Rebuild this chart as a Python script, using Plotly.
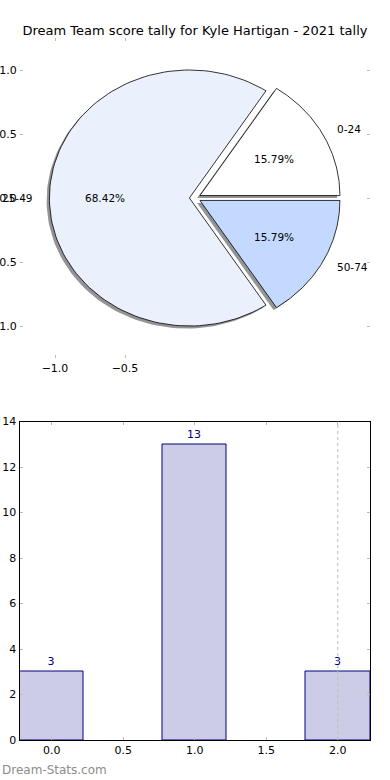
import numpy as np
import plotly.graph_objects as go

# ---- data ----
title_text = "Dream Team score tally for Kyle Hartigan - 2021 tally"
pie_labels = ["0-24", "25-49", "50-74"]
pie_values = [3, 13, 3]
pie_colors = ["#FFFFFF", "#EAF0FC", "#C4D9FF"]
explode = [0.04, 0.04, 0.04]

bar_x = [0, 1, 2]
bar_values = [3, 13, 3]
bar_width = 0.45

pie_yticks = [1.0, 0.5, 0.0, -0.5, -1.0]
pie_xticks = [-1.0, -0.5]
bar_xticks = [0.0, 0.5, 1.0, 1.5, 2.0]
bar_yticks = [0, 2, 4, 6, 8, 10, 12, 14]

FONT = "DejaVu Sans"
fig = go.Figure()

total = float(sum(pie_values))
fracs = [v / total for v in pie_values]

# compute wedges
wedges = []
t1 = 0.0
for lab, f, col, ex in zip(pie_labels, fracs, pie_colors, explode):
    t2 = t1 + 360.0 * f
    mid = np.deg2rad((t1 + t2) / 2)
    cx, cy = ex * np.cos(mid), ex * np.sin(mid)
    th = np.deg2rad(np.linspace(t1, t2, 120))
    xs = np.concatenate([[cx], cx + np.cos(th), [cx]])
    ys = np.concatenate([[cy], cy + np.sin(th), [cy]])
    wedges.append((lab, f, col, xs, ys, cx, cy, mid))
    t1 = t2

# shadows first
for lab, f, col, xs, ys, cx, cy, mid in wedges:
    fig.add_trace(go.Scatter(x=xs - 0.02, y=ys - 0.02, mode="lines", fill="toself",
                             fillcolor="rgba(60,60,65,0.55)", line=dict(width=0),
                             hoverinfo="skip", showlegend=False, xaxis="x", yaxis="y"))
for lab, f, col, xs, ys, cx, cy, mid in wedges:
    fig.add_trace(go.Scatter(x=xs, y=ys, mode="lines", fill="toself",
                             fillcolor=col, line=dict(color="black", width=0.8),
                             hoverinfo="skip", showlegend=False, xaxis="x", yaxis="y"))

# labels and percentages
for lab, f, col, xs, ys, cx, cy, mid in wedges:
    lx, ly = cx + 1.1 * np.cos(mid), cy + 1.1 * np.sin(mid)
    fig.add_annotation(x=lx, y=ly, xref="x", yref="y", text=lab, showarrow=False,
                       xanchor="left" if lx > 0 else "right", yanchor="middle",
                       font=dict(family=FONT, size=10.5, color="black"))
    px_, py_ = cx + 0.6 * np.cos(mid), cy + 0.6 * np.sin(mid)
    fig.add_annotation(x=px_, y=py_, xref="x", yref="y", text=f"{f*100:.2f}%", showarrow=False,
                       xanchor="center", yanchor="middle",
                       font=dict(family=FONT, size=10.5, color="black"))

# bars
fig.add_trace(go.Bar(x=bar_x, y=bar_values, width=bar_width,
                     marker=dict(color="#CCCCE6", line=dict(color="#000080", width=1)),
                     text=[str(v) for v in bar_values], textposition="outside",
                     textfont=dict(family=FONT, size=11, color="#000080"),
                     cliponaxis=False, hoverinfo="skip", showlegend=False,
                     xaxis="x2", yaxis="y2"))

# dotted grid line at last x tick
fig.add_shape(type="line", xref="x2", yref="y2 domain", x0=bar_xticks[-1], x1=bar_xticks[-1],
              y0=0, y1=1, line=dict(color="#BBBBBB", width=1, dash="dot"), layer="above")

tickfont = dict(family=FONT, size=11, color="black")
fig.update_layout(
    width=390, height=780,
    margin=dict(l=0, r=0, t=0, b=0),
    paper_bgcolor="white", plot_bgcolor="white",
    showlegend=False,
    bargap=0,
    title=dict(text=title_text, x=0.5, xanchor="center", y=1 - 30 / 780, yanchor="middle",
               font=dict(family=FONT, size=13, color="black")),
    xaxis=dict(domain=[20 / 390, 370 / 390], range=[-1.25, 1.25], tickvals=pie_xticks,
               ticktext=[f"{v:.1f}".replace("-", "\u2212") for v in pie_xticks],
               ticks="inside", ticklen=3, tickcolor="#BBBBBB", mirror="ticks",
               showline=True, linecolor="rgba(0,0,0,0)", showgrid=False, zeroline=False,
               tickfont=tickfont, automargin=False, fixedrange=True, anchor="y"),
    yaxis=dict(domain=[1 - 358 / 780, 1 - 38 / 780], range=[-1.25, 1.25], tickvals=pie_yticks,
               ticktext=[f"{v:.1f}".replace("-", "\u2212") for v in pie_yticks],
               ticks="inside", ticklen=3, tickcolor="#BBBBBB", mirror="ticks",
               showline=True, linecolor="rgba(0,0,0,0)", showgrid=False, zeroline=False,
               tickfont=tickfont, automargin=False, fixedrange=True, anchor="x"),
    xaxis2=dict(domain=[19.5 / 390, 370 / 390], range=[-0.225, 2.225], tickvals=bar_xticks,
                ticktext=[f"{v:.1f}" for v in bar_xticks],
                ticks="inside", ticklen=3, tickcolor="#BBBBBB", mirror="ticks",
                showline=True, linecolor="black", linewidth=1, showgrid=False, zeroline=False,
                tickfont=tickfont, automargin=False, fixedrange=True, anchor="y2"),
    yaxis2=dict(domain=[1 - 740 / 780, 1 - 421.5 / 780], range=[0, 14], tickvals=bar_yticks,
                ticks="inside", ticklen=3, tickcolor="#BBBBBB", mirror="ticks",
                showline=True, linecolor="black", linewidth=1, showgrid=False, zeroline=False,
                tickfont=tickfont, automargin=False, fixedrange=True, anchor="x2"),
)

fig.add_annotation(x=0, y=1 - 770 / 780, xref="paper", yref="paper", text="Dream-Stats.com",
                   showarrow=False, xanchor="left", yanchor="middle",
                   font=dict(family=FONT, size=12, color="#8C8C8C"))

fig.write_html("out.html", config={"displayModeBar": False},
               post_script="document.body.style.margin='0';document.body.style.overflow='hidden';")
